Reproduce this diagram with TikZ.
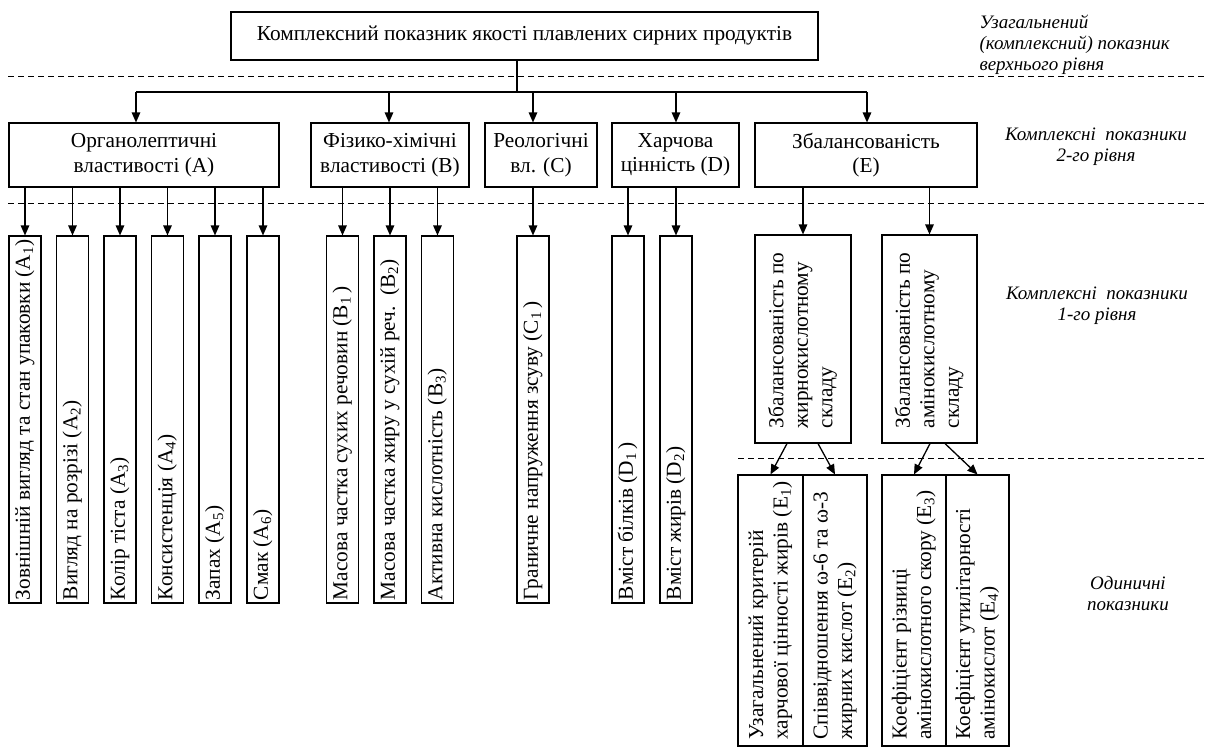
\documentclass[tikz,border=0pt]{standalone}
\usepackage{fontspec}
\setmainfont{Liberation Serif}
\usetikzlibrary{arrows.meta}

\newcommand{\vtext}[2]{\rotatebox{90}{\makebox[#1][l]{\begin{tabular}{@{}l@{}}#2\end{tabular}}}}

\begin{document}
\begin{tikzpicture}[x = 1pt, y = -1pt,
        font = \fontsize{21.3}{24.5}\selectfont,
        box/.style = {draw, line width = 1.1pt, inner sep = 0pt, align = center},
        leaf/.style = {box, minimum width = 32pt, minimum height = 367pt},
        arr/.style = {line width = 1.3pt, -{Triangle[length = 10pt, width = 8.5pt]}},
        level/.style = {line width = 0.8pt, dash pattern = on 6pt off 4pt},
        note/.style = {font = \fontsize{19}{21}\selectfont\itshape, align = center}]
    \useasboundingbox (0, 0) rectangle (1208, 753);
    % levels
    \draw [level] (8, 76) -- (1208, 76);
    \draw [level] (8, 203) -- (1208, 203);
    \draw [level] (738, 458) -- (1208, 458);
    \node [note, align = left, anchor = west] (noteTop) at (976, 45) {Узагальнений\\(комплексний) показник\\верхнього рівня};
    \node [note] (noteTwo) at (1096, 147) {Комплексні\ \ показники\\2-го рівня};
    \node [note] (noteOne) at (1097, 306) {Комплексні\ \ показники\\1-го рівня};
    \node [note] (noteUnit) at (1128, 594) {Одиничні\\показники};
    % top
    \node [box, minimum width = 587pt, minimum height = 48pt] (top) at (524.5, 36) {Комплексний показник якості плавлених сирних продуктів};
    \node [box, minimum width = 270pt, minimum height = 64pt] (organo) at (144, 155) {Органолептичні\\властивості (A)};
    \node [box, minimum width = 158pt, minimum height = 64pt] (physchem) at (390, 155) {Фізико-хімічні\\властивості (B)};
    \node [box, minimum width = 112pt, minimum height = 64pt] (rheo) at (541, 155) {Реологічні\\вл. (C)};
    \node [box, minimum width = 127pt, minimum height = 64pt] (nutri) at (675.5, 155) {Харчова\\цінність (D)};
    \node [box, minimum width = 222pt, minimum height = 64pt] (balance) at (866, 155) {Збалансованість\\(E)};
    \coordinate (fork) at (517, 92);
    \coordinate (forkA) at (136, 92);
    \coordinate (forkB) at (389, 92);
    \coordinate (forkC) at (533, 92);
    \coordinate (forkD) at (676, 92);
    \coordinate (forkE) at (867, 92);
    \draw [line width = 1.1pt] (fork |- top.south) -- (fork);
    \draw [line width = 1.3pt] (forkA) -- (forkE);
    \draw [arr] (forkA) -- (forkA |- organo.north);
    \draw [arr] (forkB) -- (forkB |- physchem.north);
    \draw [arr] (forkC) -- (forkC |- rheo.north);
    \draw [arr] (forkD) -- (forkD |- nutri.north);
    \draw [arr] (forkE) -- (forkE |- balance.north);
    % single indices
    \node [leaf] (a1) at (25, 419.5) {\vtext{361pt}{Зовнішній вигляд та стан упаковки (A\textsubscript{1})}};
    \node [leaf] (a2) at (72.5, 419.5) {\vtext{361pt}{Вигляд на розрізі (A\textsubscript{2})}};
    \node [leaf] (a3) at (120, 419.5) {\vtext{361pt}{Колір тіста (A\textsubscript{3})}};
    \node [leaf] (a4) at (167.5, 419.5) {\vtext{361pt}{Консистенція (A\textsubscript{4})}};
    \node [leaf] (a5) at (215, 419.5) {\vtext{361pt}{Запах (A\textsubscript{5})}};
    \node [leaf] (a6) at (263, 419.5) {\vtext{361pt}{Смак (A\textsubscript{6})}};
    \node [leaf] (b1) at (342.5, 419.5) {\vtext{361pt}{Масова частка сухих речовин (B\textsubscript{1}\,)}};
    \node [leaf] (b2) at (390, 419.5) {\vtext{361pt}{Масова частка жиру у сухій реч.\ \ (B\textsubscript{2})}};
    \node [leaf] (b3) at (437.5, 419.5) {\vtext{361pt}{Активна кислотність (B\textsubscript{3})}};
    \node [leaf] (c1) at (533, 419.5) {\vtext{361pt}{Граничне напруження зсуву (C\textsubscript{1}\,)}};
    \node [leaf] (d1) at (628, 419.5) {\vtext{361pt}{Вміст білків (D\textsubscript{1}\,)}};
    \node [leaf] (d2) at (676, 419.5) {\vtext{361pt}{Вміст жирів (D\textsubscript{2})}};
    \foreach \leafname/\parent in {a1/organo, a2/organo, a3/organo, a4/organo, a5/organo, a6/organo,
            b1/physchem, b2/physchem, b3/physchem, c1/rheo, d1/nutri, d2/nutri}
        \draw [arr] (\leafname |- \parent.south) -- (\leafname.north);
    % balance branch
    \node [box, minimum width = 96pt, minimum height = 208pt] (fatty) at (803, 339) {\vtext{178pt}{Збалансованість по\\жирнокислотному\\складу}};
    \node [box, minimum width = 95pt, minimum height = 208pt] (amino) at (929.5, 339) {\vtext{178pt}{Збалансованість по\\амінокислотному\\складу}};
    \draw [arr] (fatty |- balance.south) -- (fatty.north);
    \draw [arr] (amino |- balance.south) -- (amino.north);
    \node [box, minimum width = 65pt, minimum height = 271pt] (e1) at (770.5, 610.5) {\vtext{258pt}{Узагальнений критерій\\харчової цінності жирів (E\textsubscript{1})}};
    \node [box, minimum width = 64pt, minimum height = 271pt] (e2) at (835, 610.5) {\vtext{258pt}{Співвідношення ω-6 та ω-3\\жирних кислот (E\textsubscript{2})}};
    \node [box, minimum width = 64pt, minimum height = 271pt] (e3) at (914, 610.5) {\vtext{258pt}{Коефіцієнт різниці\\амінокислотного скору (E\textsubscript{3})}};
    \node [box, minimum width = 63pt, minimum height = 271pt] (e4) at (977.5, 610.5) {\vtext{258pt}{Коефіцієнт утилітарності\\амінокислот (E\textsubscript{4})}};
    \draw [arr] ([xshift = -16pt] fatty.south) -- (e1.north);
    \draw [arr] ([xshift = 15pt] fatty.south) -- (e2.north);
    \draw [arr] ([xshift = 0.5pt] amino.south) -- (e3.north);
    \draw [arr] ([xshift = 15.5pt] amino.south) -- (e4.north);
\end{tikzpicture}
\end{document}
